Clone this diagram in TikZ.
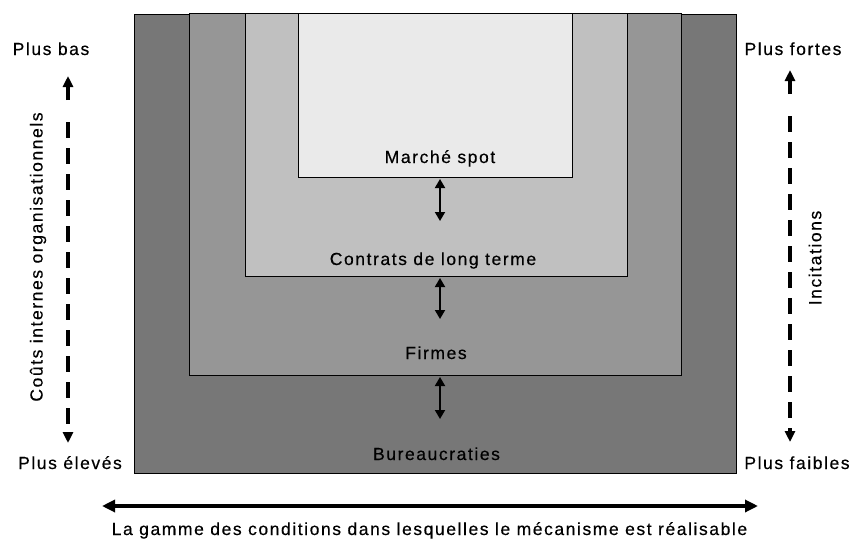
\documentclass[tikz,border=0pt]{standalone}
\usepackage{fontspec}
\setmainfont{Liberation Sans}[LetterSpace=9,FakeBold=0.4]
\usetikzlibrary{arrows.meta}
\definecolor{cBur}{HTML}{777777}
\definecolor{cFir}{HTML}{969696}
\definecolor{cCon}{HTML}{C0C0C0}
\definecolor{cMar}{HTML}{EAEAEA}
\begin{document}
\begin{tikzpicture}[x=1pt,y=-1pt,
  box/.style={draw=black,line width=0.8pt},
  lbl/.style={font=\fontsize{17.5}{20}\selectfont,inner sep=0pt,anchor=base},
  vlbl/.style={font=\fontsize{17.5}{20}\selectfont,inner sep=0pt,rotate=90},
  dbl/.style={{Triangle[length=9pt,width=10pt]}-{Triangle[length=9pt,width=10pt]},line width=1.8pt},
  dasharrow/.style={-{Triangle[length=11pt,width=10pt]},line width=3.8pt,dash pattern=on 16pt off 10pt},
  bigarrow/.style={{Triangle[length=13pt,width=12pt]}-{Triangle[length=13pt,width=12pt]},line width=3.2pt}]
\useasboundingbox (0,0) rectangle (851,538);
% boxes
\draw[box,fill=cBur] (134,14) rectangle (736,473);
\draw[box,fill=cFir] (189,13) rectangle (681,375);
\draw[box,fill=cCon] (245,13) rectangle (627,276);
\draw[box,fill=cMar] (298,13) rectangle (572,177);
% labels
\node[lbl] (mar) at (440,163) {Marché spot};
\node[lbl] (con) at (433,265) {Contrats de long terme};
\node[lbl] (fir) at (436,359) {Firmes};
\node[lbl] (bur) at (436.5,460) {Bureaucraties};
% double arrows
\coordinate (a1) at (440,179); \coordinate (b1) at (440,221);
\coordinate (a2) at (440,278); \coordinate (b2) at (440,319);
\coordinate (a3) at (440,377); \coordinate (b3) at (440,419);
\draw[dbl] (a1) -- (b1);
\draw[dbl] (a2) -- (b2);
\draw[dbl] (a3) -- (b3);
% left side
\node[lbl] (pb) at (51,55) {Plus bas};
\node[lbl] (pe) at (70,469) {Plus élevés};
\coordinate (l1) at (68,443); \coordinate (l2) at (68,76);
\draw[dasharrow] (68,100) -- (l2);
\draw[dasharrow] (68,122) -- (l1);
\node[vlbl] (cio) at (38,257) {Coûts internes organisationnels};
% right side
\node[lbl] (pf) at (793,55) {Plus fortes};
\node[lbl] (pfa) at (797,469) {Plus faibles};
\coordinate (r1) at (790,442); \coordinate (r2) at (790,70);
\draw[dasharrow] (790,94) -- (r2);
\draw[dasharrow] (790,116) -- (r1);
\node[vlbl] (inc) at (815,258) {Incitations};
% bottom
\coordinate (h1) at (102,506); \coordinate (h2) at (758,506);
\draw[bigarrow] (h1) -- (h2);
\node[lbl] (gam) at (429.5,535) {La gamme des conditions dans lesquelles le mécanisme est réalisable};
\end{tikzpicture}
\end{document}
